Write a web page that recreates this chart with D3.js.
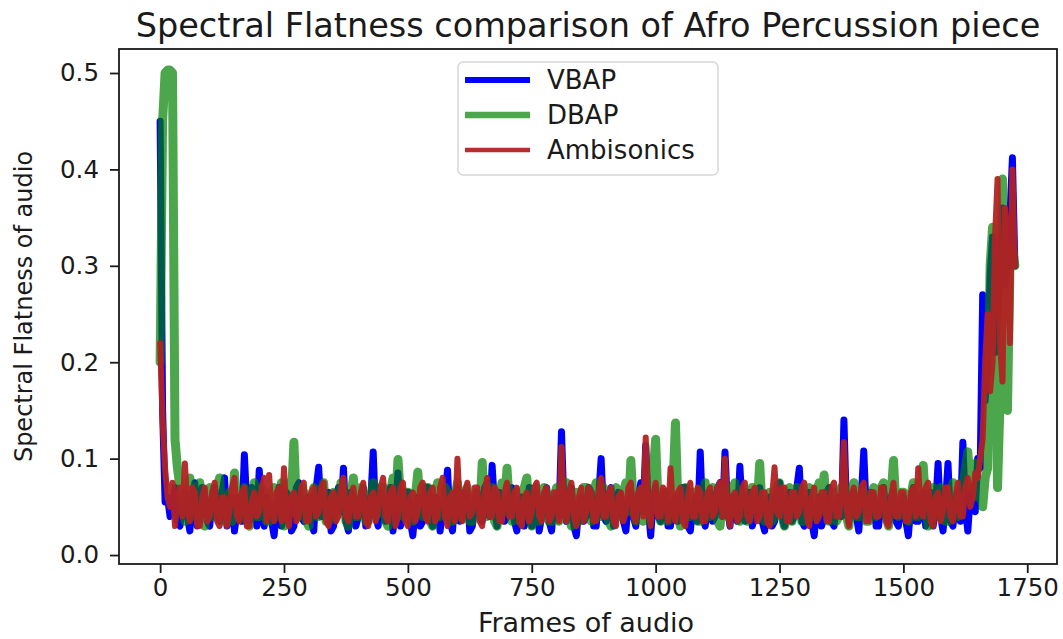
<!DOCTYPE html>
<html>
<head>
<meta charset="utf-8">
<script src="https://cdn.jsdelivr.net/npm/d3@7"></script>
<style>
  body { margin: 0; background: #fff; }
  text { font-family: "DejaVu Sans", sans-serif; fill: #1a1a1a; }
</style>
</head>
<body>
<div id="chart"></div>
<script>
//DATA
//one value every 5 frames, frame 0 .. 1725
const frameStep = 5;
const xTicks = [0, 250, 500, 750, 1000, 1250, 1500, 1750];
const yTicks = [0.0, 0.1, 0.2, 0.3, 0.4, 0.5];
const seriesNames = ["VBAP", "DBAP", "Ambisonics"];

const vbap = [
  .45,.15,.055,.06,.04,.055,.07,.035,.03,.05,.065,.04,.025,.06,.075,.03,.04,.07,.06,.035,
  .03,.055,.07,.04,.035,.065,.08,.03,.05,.06,.025,.045,.06,.035,.104,.05,.035,.07,.065,.03,
  .088,.04,.03,.06,.055,.035,.02,.05,.07,.03,.04,.065,.06,.025,.03,.07,.075,.04,.035,.055,
  .06,.035,.025,.07,.091,.04,.04,.06,.065,.025,.03,.055,.07,.045,.09,.035,.025,.065,.06,.03,
  .04,.06,.07,.03,.035,.055,.107,.04,.03,.065,.06,.035,.045,.07,.025,.05,.085,.03,.04,.065,
  .065,.035,.02,.05,.06,.03,.035,.07,.07,.04,.03,.06,.055,.025,.045,.065,.088,.035,.025,.06,
  .07,.035,.04,.065,.06,.025,.03,.055,.065,.04,.035,.07,.075,.04,.093,.05,.03,.065,.06,.035,
  .04,.06,.07,.035,.025,.055,.06,.03,.045,.07,.03,.05,.065,.025,.04,.06,.07,.035,.025,.055,
  .06,.04,.128,.05,.035,.065,.07,.03,.02,.05,.06,.035,.04,.07,.065,.03,.03,.06,.10,.04,
  .035,.06,.07,.03,.04,.065,.06,.035,.025,.055,.065,.04,.03,.06,.075,.045,.114,.05,.02,.055,
  .07,.04,.035,.06,.065,.03,.03,.055,.06,.035,.04,.07,.07,.03,.025,.05,.06,.035,.107,.04,
  .03,.055,.065,.035,.04,.07,.075,.04,.107,.05,.03,.06,.06,.035,.092,.045,.035,.06,.065,.03,
  .04,.06,.07,.035,.025,.055,.06,.03,.035,.065,.075,.04,.03,.055,.065,.035,.04,.07,.09,.035,
  .03,.055,.065,.035,.02,.05,.06,.03,.04,.065,.07,.035,.03,.055,.06,.04,.14,.05,.035,.06,
  .065,.04,.025,.06,.108,.045,.04,.065,.06,.03,.03,.055,.07,.04,.035,.06,.065,.035,.03,.055,
  .06,.035,.02,.05,.07,.035,.035,.06,.065,.03,.04,.065,.03,.05,.095,.04,.025,.055,.095,.035,
  .03,.055,.065,.035,.117,.05,.025,.06,.07,.045,.1,.09,.27,.16,.2,.29,.33,.21,.25,.3,
  .36,.28,.3,.35,.412,.3
];

const dbap = [
  .2,.45,.5,.503,.503,.5,.12,.09,.07,.05,.035,.06,.08,.045,.04,.065,.075,.04,.03,.06,
  .07,.04,.045,.07,.08,.04,.035,.06,.065,.035,.085,.05,.04,.065,.07,.035,.03,.06,.075,.04,
  .04,.07,.065,.035,.035,.06,.07,.04,.045,.075,.03,.055,.075,.06,.117,.05,.04,.07,.065,.035,
  .03,.06,.07,.04,.04,.065,.075,.035,.035,.06,.065,.04,.045,.075,.07,.035,.03,.06,.08,.04,
  .04,.07,.065,.035,.035,.06,.075,.04,.045,.07,.07,.035,.03,.065,.08,.05,.099,.06,.04,.065,
  .065,.04,.035,.06,.086,.045,.04,.07,.07,.035,.03,.06,.075,.04,.045,.07,.065,.035,.035,.06,
  .075,.04,.04,.065,.07,.035,.035,.06,.065,.04,.096,.05,.04,.07,.07,.035,.03,.06,.075,.045,
  .09,.05,.035,.06,.065,.035,.04,.07,.08,.04,.03,.06,.07,.035,.045,.07,.065,.035,.035,.06,
  .07,.035,.04,.065,.075,.04,.03,.06,.065,.035,.045,.07,.07,.04,.035,.065,.075,.04,.04,.07,
  .065,.035,.03,.06,.07,.04,.04,.065,.075,.045,.098,.05,.035,.06,.065,.035,.04,.07,.07,.085,
  .12,.05,.035,.065,.065,.035,.04,.07,.137,.05,.03,.06,.07,.04,.04,.065,.065,.035,.035,.06,
  .075,.04,.04,.07,.065,.035,.03,.06,.07,.04,.045,.07,.075,.04,.035,.06,.065,.035,.04,.07,
  .07,.05,.095,.045,.035,.06,.065,.035,.04,.07,.075,.04,.03,.06,.07,.035,.045,.07,.065,.035,
  .035,.06,.07,.04,.04,.065,.075,.045,.083,.05,.035,.06,.065,.035,.04,.07,.07,.04,.03,.06,
  .075,.04,.04,.065,.065,.035,.035,.06,.07,.04,.045,.07,.075,.04,.03,.06,.098,.05,.04,.065,
  .065,.04,.035,.06,.075,.04,.04,.065,.093,.05,.03,.06,.07,.04,.045,.07,.065,.035,.035,.06,
  .075,.045,.04,.065,.07,.09,.107,.07,.08,.095,.06,.075,.05,.08,.09,.3,.34,.25,.07,.16,
  .39,.2,.15,.3,.32,.3
];

const ambisonics = [
  .22,.14,.09,.06,.05,.075,.03,.06,.07,.04,.095,.05,.035,.07,.065,.03,.03,.06,.07,.035,
  .04,.065,.075,.035,.03,.06,.06,.03,.045,.07,.08,.04,.035,.065,.07,.03,.03,.055,.065,.04,
  .045,.07,.08,.035,.083,.045,.035,.065,.07,.035,.09,.04,.03,.06,.065,.035,.04,.07,.075,.035,
  .035,.065,.07,.04,.045,.07,.075,.035,.03,.06,.065,.035,.04,.07,.08,.04,.035,.06,.07,.04,
  .04,.065,.075,.035,.03,.06,.065,.035,.045,.07,.08,.04,.035,.065,.07,.03,.04,.07,.075,.035,
  .03,.06,.065,.035,.045,.07,.075,.04,.035,.065,.07,.035,.04,.07,.08,.04,.03,.06,.065,.035,
  .1,.045,.035,.065,.075,.04,.045,.07,.07,.035,.03,.065,.08,.04,.04,.07,.065,.035,.035,.065,
  .075,.04,.04,.065,.07,.035,.03,.06,.065,.035,.045,.07,.075,.04,.035,.065,.07,.035,.04,.065,
  .065,.035,.112,.045,.035,.065,.075,.04,.03,.06,.07,.035,.045,.07,.065,.035,.035,.065,.08,.04,
  .04,.065,.07,.035,.03,.06,.065,.035,.045,.07,.075,.04,.035,.065,.07,.04,.122,.05,.03,.06,
  .075,.04,.04,.07,.065,.035,.09,.045,.035,.065,.07,.035,.03,.06,.075,.04,.04,.07,.065,.035,
  .035,.065,.07,.04,.045,.07,.075,.04,.1,.045,.03,.06,.065,.035,.04,.07,.075,.04,.035,.065,
  .07,.035,.04,.065,.065,.035,.03,.06,.091,.045,.04,.07,.07,.035,.035,.065,.065,.04,.045,.07,
  .075,.04,.03,.06,.07,.035,.04,.065,.065,.035,.035,.07,.075,.04,.04,.065,.117,.05,.03,.06,
  .07,.04,.045,.07,.075,.035,.035,.065,.065,.04,.04,.07,.07,.035,.03,.06,.075,.04,.04,.065,
  .065,.035,.035,.065,.07,.04,.09,.045,.04,.07,.075,.035,.03,.06,.065,.035,.045,.07,.07,.04,
  .035,.06,.075,.04,.04,.07,.08,.05,.06,.085,.08,.1,.12,.2,.25,.17,.2,.33,.39,.22,
  .18,.36,.33,.22,.4,.3
];

//LAYOUT AND SIZING
const W = 1063, H = 639;
const plot = {left:119, right:1057, top:49, bottom:564};

//line styles, drawn in this order
const styles = [
  {data: vbap,       color:"#0000ff", width:7,   legendWidth:6,   opacity:1},
  {data: dbap,       color:"#008000", width:9,   legendWidth:6.5, opacity:0.7},
  {data: ambisonics, color:"#b22222", width:6,   legendWidth:4.5, opacity:0.95}
];

const svg = d3.select("#chart").append("svg")
  .attr("width", W).attr("height", H);

svg.append("rect").attr("width", W).attr("height", H).attr("fill", "#fff");

//Scales
const x = d3.scaleLinear().domain([-83, 1810]).range([plot.left, plot.right]);
const y = d3.scaleLinear().domain([-0.0093, 0.5249]).range([plot.bottom, plot.top]);

svg.append("clipPath").attr("id", "clip")
  .append("rect")
  .attr("x", plot.left).attr("y", plot.top)
  .attr("width", plot.right - plot.left).attr("height", plot.bottom - plot.top);

//Lines
const line = d3.line()
  .x((d, i) => x(i * frameStep))
  .y(d => y(d));

const lines = svg.append("g").attr("clip-path", "url(#clip)");
styles.forEach(s => {
  lines.append("path")
    .attr("d", line(s.data))
    .attr("fill", "none")
    .attr("stroke", s.color)
    .attr("stroke-opacity", s.opacity)
    .attr("stroke-width", s.width)
    .attr("stroke-linejoin", "round")
    .attr("stroke-linecap", "round");
});

//Axes
const xAxisG = svg.append("g")
  .attr("transform", `translate(0,${plot.bottom})`)
  .call(d3.axisBottom(x).tickValues(xTicks).tickSize(9).tickPadding(6).tickSizeOuter(0).tickFormat(d3.format("d")));
const yAxisG = svg.append("g")
  .attr("transform", `translate(${plot.left},0)`)
  .call(d3.axisLeft(y).tickValues(yTicks).tickSize(9).tickPadding(11).tickSizeOuter(0).tickFormat(d3.format(".1f")));

[xAxisG, yAxisG].forEach(g => {
  g.select(".domain").remove();
  g.selectAll(".tick line").attr("stroke", "#1a1a1a").attr("stroke-width", 1.8);
  g.selectAll(".tick text").attr("font-size", "24.5px").attr("font-family", "DejaVu Sans").attr("fill", "#1a1a1a");
});

//Frame
svg.append("rect")
  .attr("x", plot.left).attr("y", plot.top)
  .attr("width", plot.right - plot.left).attr("height", plot.bottom - plot.top)
  .attr("fill", "none").attr("stroke", "#1a1a1a").attr("stroke-width", 1.8);

//Titles
svg.append("text")
  .attr("x", 588).attr("y", 37)
  .attr("text-anchor", "middle").attr("font-size", "33.5px")
  .text("Spectral Flatness comparison of Afro Percussion piece");

svg.append("text")
  .attr("x", 586).attr("y", 632)
  .attr("text-anchor", "middle").attr("font-size", "27px")
  .text("Frames of audio");

svg.append("text")
  .attr("transform", `translate(32,${(plot.top + plot.bottom) / 2}) rotate(-90)`)
  .attr("text-anchor", "middle").attr("font-size", "24px")
  .text("Spectral Flatness of audio");

//Legend
const legend = svg.append("g");
legend.append("rect")
  .attr("x", 458).attr("y", 62).attr("width", 260).attr("height", 113).attr("rx", 5)
  .attr("fill", "#fff").attr("fill-opacity", 0.8)
  .attr("stroke", "#d6d6d6").attr("stroke-width", 1.5);

seriesNames.forEach((name, i) => {
  const ly = 80 + i * 35;
  legend.append("line")
    .attr("x1", 465).attr("x2", 530).attr("y1", ly).attr("y2", ly)
    .attr("stroke", styles[i].color)
    .attr("stroke-opacity", styles[i].opacity)
    .attr("stroke-width", styles[i].legendWidth);
  legend.append("text")
    .attr("x", 547).attr("y", ly).attr("dy", "0.35em")
    .attr("font-size", "26px")
    .text(name);
});
</script>
</body>
</html>
